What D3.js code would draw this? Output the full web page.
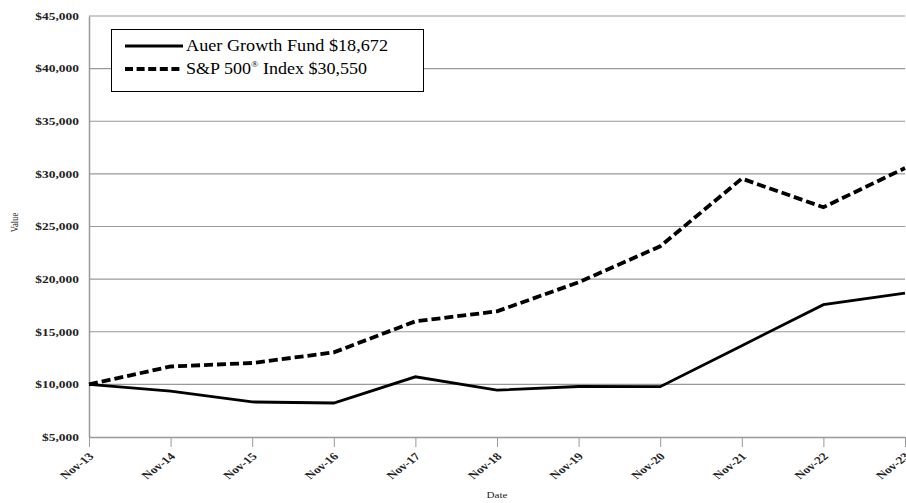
<!DOCTYPE html>
<html><head><meta charset="utf-8">
<script src="https://cdn.jsdelivr.net/npm/d3@7"></script>
<style>body{margin:0;background:#fff}svg{display:block}</style>
</head><body>
<svg id="c" width="906" height="503"></svg>
<script>
const dates = ["Nov-13","Nov-14","Nov-15","Nov-16","Nov-17","Nov-18","Nov-19","Nov-20","Nov-21","Nov-22","Nov-23"];
const fundValues = [10000, 9350, 8330, 8230, 10720, 9450, 9800, 9780, 13680, 17570, 18672];
const spValues = [10000, 11700, 12030, 13040, 15990, 16940, 19700, 23120, 29550, 26830, 30550];
const yTicks = [5000,10000,15000,20000,25000,30000,35000,40000,45000];
const legendLabels = ["Auer Growth Fund $18,672", "S&P 500", " Index $30,550"];

const svg = d3.select("#c");
const m = {l:89, r:905, t:16, b:437};
const x = d3.scalePoint().domain(dates).range([m.l, m.r]);
const y = d3.scaleLinear().domain([5000,45000]).range([m.b, m.t]);
const font = "'Liberation Serif','Times New Roman',serif";
const sx = 1.28; // horizontal stretch of the glyphs seen in the reference

// gridlines
svg.append("g").selectAll("line").data(yTicks.slice(1)).join("line")
  .attr("x1", m.l).attr("x2", m.r).attr("y1", d=>y(d)).attr("y2", d=>y(d))
  .attr("stroke","#999").attr("stroke-width",1.2);

// y axis
const ya = svg.append("g").attr("transform",`translate(${m.l},0)`)
  .call(d3.axisLeft(y).tickValues(yTicks).tickSize(0).tickPadding(0).tickFormat(d=>"$"+d3.format(",")(d)));
ya.select(".domain").attr("stroke","#999").attr("stroke-width",1.5);
ya.selectAll("text").attr("font-family",font).attr("font-weight","bold").attr("font-size","10.5px").attr("fill","#222")
  .attr("x",0).attr("transform",`translate(-10,0) scale(${sx},1)`);

// x axis
const xa = svg.append("g").attr("transform",`translate(0,${m.b})`)
  .call(d3.axisBottom(x).tickSize(10).tickSizeOuter(0));
xa.select(".domain").attr("stroke","#999").attr("stroke-width",1.5);
xa.selectAll(".tick line").attr("stroke","#999").attr("stroke-width",1);
xa.selectAll("text").attr("font-family",font).attr("font-weight","bold").attr("font-size","10.5px").attr("fill","#222")
  .attr("text-anchor","end").attr("dy",null).attr("y",0)
  .attr("transform",`translate(5,20) scale(${sx},1) rotate(-45)`);

// axis titles
svg.append("text").attr("transform",`translate(497,498) scale(${sx},1)`).attr("text-anchor","middle")
  .attr("font-family",font).attr("font-size","8.7px").attr("fill","#222").text("Date");
svg.append("text").attr("transform",`translate(17.5,222.5) scale(${sx},1) rotate(-90)`).attr("text-anchor","middle")
  .attr("font-family",font).attr("font-size","8.5px").attr("fill","#222").text("Value");

// lines
const line = d3.line().x((d,i)=>x(dates[i])).y(d=>y(d));
svg.append("path").datum(spValues).attr("d",line).attr("fill","none")
  .attr("stroke","#000").attr("stroke-width",3.8).attr("stroke-dasharray","9,4");
svg.append("path").datum(fundValues).attr("d",line).attr("fill","none")
  .attr("stroke","#000").attr("stroke-width",2.8);

// legend
const lg = svg.append("g");
lg.append("rect").attr("x",111.5).attr("y",29.5).attr("width",312).attr("height",62)
  .attr("fill","#fff").attr("stroke","#000").attr("stroke-width",1);
lg.append("line").attr("x1",125).attr("x2",183).attr("y1",46).attr("y2",46).attr("stroke","#000").attr("stroke-width",2.8);
lg.append("line").attr("x1",125).attr("x2",183).attr("y1",69).attr("y2",69).attr("stroke","#000").attr("stroke-width",3.8).attr("stroke-dasharray","8,3.6");
lg.append("text").attr("x",186).attr("y",51).attr("textLength",202).attr("lengthAdjust","spacingAndGlyphs")
  .attr("font-family",font).attr("font-size","16.5px").attr("fill","#000").text(legendLabels[0]);
const t2 = lg.append("text").attr("x",186).attr("y",74).attr("textLength",181).attr("lengthAdjust","spacingAndGlyphs")
  .attr("font-family",font).attr("font-size","16.5px").attr("fill","#000");
t2.append("tspan").text(legendLabels[1]);
t2.append("tspan").attr("font-size","9px").attr("dy",-7).text("®");
t2.append("tspan").attr("dy",7).text(legendLabels[2]);
</script>
</body></html>
